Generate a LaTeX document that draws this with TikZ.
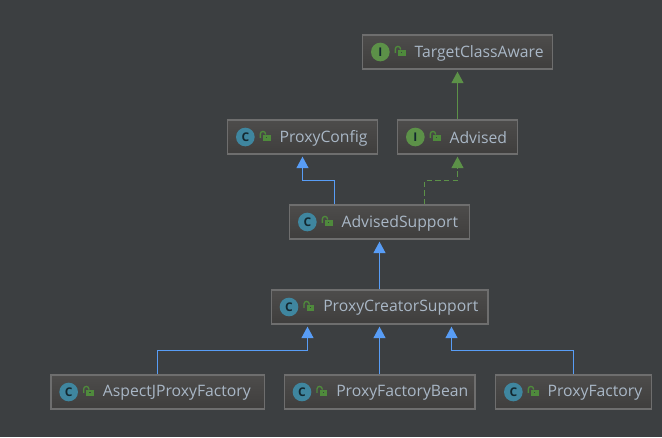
\documentclass[tikz,border=0pt]{standalone}
\usepackage{fontspec}
\setmainfont{Open Sans}
\usetikzlibrary{calc, positioning}
\usetikzlibrary{arrows.meta}

\definecolor{canvasgray}{HTML}{3C3F41}
\definecolor{boxtop}{HTML}{4D4C4B}
\definecolor{boxbottom}{HTML}{3F3E3D}
\definecolor{boxline}{HTML}{6E6E6E}
\definecolor{labelgray}{HTML}{A9B7C6}
\definecolor{extendblue}{HTML}{589DF6}
\definecolor{implgreen}{HTML}{5C9148}
\definecolor{classteal}{HTML}{3F869F}
\definecolor{lockgreen}{HTML}{4F8A3C}

\tikzset{
  typebox/.style={draw=boxline, line width=1pt, top color=boxtop, bottom color=boxbottom,
    minimum height=25.5pt, inner sep=0pt},
  typelabel/.style={text=labelgray, inner sep=0pt, font=\fontsize{11.8pt}{14pt}\selectfont},
  classicon/.style={circle, fill=classteal, text=black!70!classteal, minimum size=14pt, inner sep=0pt,
    font=\fontsize{9pt}{9pt}\selectfont\bfseries},
  ifaceicon/.style={classicon, fill=implgreen},
  extendline/.style={draw=extendblue, line width=.85pt, shorten >=1.5pt,
    -{Triangle[length=8.6pt,width=9pt]}},
  implline/.style={extendline, draw=implgreen},
  implement/.style={implline, dash pattern=on 4pt off 2.5pt},
  lockicon/.pic={
    \fill[lockgreen] (-2.5,-2.5) rectangle (5.3,3.8);
    \fill[canvasgray] (.8,-.2) rectangle (2,1.2);
    \draw[lockgreen, line width=1pt] (-5,.8) -- (-5,-3) arc[start angle=180, end angle=360, x radius=2.6, y radius=2.6] -- (.2,-2.5);
  }
}

\begin{document}
\begin{tikzpicture}[x=.75pt,y=-.75pt]
\def\typeinner#1#2#3#4{
  \node[#2] (#1icon) at ($(#1.west)+(18.5,0)$) {#3};
  \pic at ($(#1.west)+(38.5,0)$) {lockicon};
  \node[typelabel, anchor=west] (#1label) at ($(#1.west)+(52.5,1)$) {#4};
}

\fill[canvasgray] (0,0) rectangle (662,437);
\useasboundingbox (0,0) rectangle (662,437);

\node[typebox, minimum width=142.5pt] (targetclassaware) at (457.5,52) {};
\node[typebox, minimum width=90pt] (advised) at (457.5,137) {};
\node[typebox, minimum width=112.5pt] (proxyconfig) at (302.5,137) {};
\node[typebox, minimum width=135pt] (advisedsupport) at (379.5,222) {};
\node[typebox, minimum width=162.5pt] (proxycreator) at (379.5,307) {};
\node[typebox, minimum width=160pt] (aspectjfactory) at (157.5,392) {};
\node[typebox, minimum width=143pt] (factorybean) at (379.5,392) {};
\node[typebox, minimum width=117pt] (proxyfactory) at (573.5,392) {};

\typeinner{targetclassaware}{ifaceicon}{I}{TargetClassAware}
\typeinner{advised}{ifaceicon}{I}{Advised}
\typeinner{proxyconfig}{classicon}{C}{ProxyConfig}
\typeinner{advisedsupport}{classicon}{C}{AdvisedSupport}
\typeinner{proxycreator}{classicon}{C}{ProxyCreatorSupport}
\typeinner{aspectjfactory}{classicon}{C}{AspectJProxyFactory}
\typeinner{factorybean}{classicon}{C}{ProxyFactoryBean}
\typeinner{proxyfactory}{classicon}{C}{ProxyFactory}

\draw[implline] (advised.north) -- (targetclassaware.south);
\draw[implement] ($(advisedsupport.north)+(45,0)$) -- ++(0,-23.8) -| (advised.south);
\draw[extendline] ($(advisedsupport.north)+(-45,0)$) -- ++(0,-23.8) -| (proxyconfig.south);
\draw[extendline] (proxycreator.north) -- (advisedsupport.south);
\draw[extendline] (factorybean.north) -- (proxycreator.south);
\draw[extendline] (aspectjfactory.north) -- ++(0,-23.8) -| ($(proxycreator.south)+(-72,0)$);
\draw[extendline] (proxyfactory.north) -- ++(0,-23.8) -| ($(proxycreator.south)+(72,0)$);
\end{tikzpicture}
\end{document}
